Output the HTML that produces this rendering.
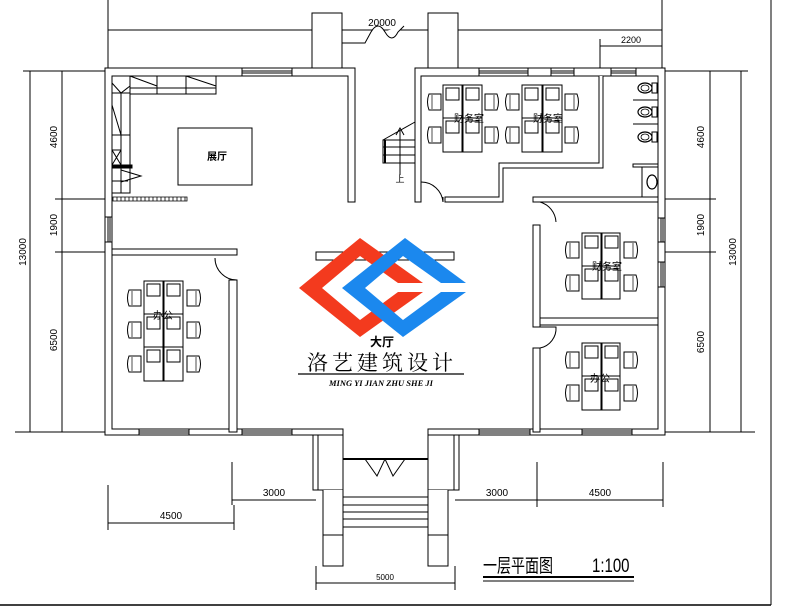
<!DOCTYPE html>
<html><head><meta charset="utf-8"><style>
html,body{margin:0;padding:0;background:#fff;}
svg{display:block;}
text{font-family:"Liberation Sans","Noto Sans CJK SC",sans-serif;fill:#000;}
</style></head><body>
<svg width="794" height="613" viewBox="0 0 794 613" xmlns="http://www.w3.org/2000/svg">
<defs>
<g id="chairL"><path d="M0,-8 h12 v16 h-12 q-3,-8 0,-16z" fill="#fff" stroke="#000" stroke-width="1"/><line x1="3" y1="-7" x2="3" y2="7" stroke="#000" stroke-width="0.7"/></g>
<g id="chairR"><path d="M0,-8 h-12 v16 h12 q3,-8 0,-16z" fill="#fff" stroke="#000" stroke-width="1"/><line x1="-3" y1="-7" x2="-3" y2="7" stroke="#000" stroke-width="0.7"/></g>
<g id="toilet"><ellipse cx="0" cy="0" rx="7" ry="5" fill="#fff" stroke="#000" stroke-width="1.2"/><ellipse cx="0" cy="0" rx="4" ry="3" fill="none" stroke="#000" stroke-width="0.8"/><rect x="7" y="-5" width="5" height="10" fill="#fff" stroke="#000" stroke-width="1"/></g>
</defs>
<g fill="none" stroke="#000" stroke-width="1">
<line x1="771" y1="0" x2="771" y2="605"/>
<line x1="0" y1="605" x2="771" y2="605" stroke-width="1.5"/>
<line x1="108" y1="0" x2="108" y2="69"/>
<line x1="662" y1="0" x2="662" y2="69"/>
<line x1="108" y1="30" x2="662" y2="30"/>
<rect x="312" y="13" width="30" height="55" fill="#fff"/>
<rect x="428" y="13" width="30" height="55" fill="#fff"/>
<path d="M342,43 H365 L371,32 Q378,20 385,32 Q392,44 398,32 L404,26 " fill="#fff" stroke="#000"/>
<line x1="600" y1="46" x2="662" y2="46"/>
<line x1="600" y1="39" x2="600" y2="69"/>
<line x1="30" y1="71" x2="30" y2="432"/>
<line x1="62" y1="71" x2="62" y2="432"/>
<line x1="23" y1="71" x2="105" y2="71"/>
<line x1="55" y1="199" x2="105" y2="199"/>
<line x1="55" y1="252" x2="105" y2="252"/>
<line x1="15" y1="432" x2="105" y2="432"/>
<line x1="710" y1="71" x2="710" y2="432"/>
<line x1="741" y1="71" x2="741" y2="432"/>
<line x1="665" y1="71" x2="748" y2="71"/>
<line x1="665" y1="199" x2="716" y2="199"/>
<line x1="665" y1="252" x2="716" y2="252"/>
<line x1="665" y1="432" x2="755" y2="432"/>
<path d="M105,68 H355 V202 H348 V76 H112 V429 H343 V435 H105 Z" fill="#fff"/>
<path d="M415,68 H665 V435 H428 V429 H658 V76 H421 V202 H415 Z" fill="#fff"/>
<rect x="242" y="68" width="50" height="8" fill="#fff"/><line x1="242" y1="71" x2="292" y2="71"/><line x1="242" y1="73" x2="292" y2="73"/>
<rect x="479" y="68" width="49" height="8" fill="#fff"/><line x1="479" y1="71" x2="528" y2="71"/><line x1="479" y1="73" x2="528" y2="73"/>
<rect x="551" y="68" width="23" height="8" fill="#fff"/><line x1="551" y1="71" x2="574" y2="71"/><line x1="551" y1="73" x2="574" y2="73"/>
<rect x="611" y="68" width="25" height="8" fill="#fff"/><line x1="611" y1="71" x2="636" y2="71"/><line x1="611" y1="73" x2="636" y2="73"/>
<rect x="105" y="217" width="7" height="25" fill="#fff"/><line x1="108" y1="217" x2="108" y2="242"/><line x1="110" y1="217" x2="110" y2="242"/>
<rect x="658" y="218" width="7" height="24" fill="#fff"/><line x1="661" y1="218" x2="661" y2="242"/><line x1="663" y1="218" x2="663" y2="242"/>
<rect x="658" y="262" width="7" height="25" fill="#fff"/><line x1="661" y1="262" x2="661" y2="287"/><line x1="663" y1="262" x2="663" y2="287"/>
<rect x="139" y="429" width="50" height="6" fill="#fff"/><line x1="139" y1="431" x2="189" y2="431"/><line x1="139" y1="433" x2="189" y2="433"/>
<rect x="242" y="429" width="50" height="6" fill="#fff"/><line x1="242" y1="431" x2="292" y2="431"/><line x1="242" y1="433" x2="292" y2="433"/>
<rect x="479" y="429" width="51" height="6" fill="#fff"/><line x1="479" y1="431" x2="530" y2="431"/><line x1="479" y1="433" x2="530" y2="433"/>
<rect x="582" y="429" width="50" height="6" fill="#fff"/><line x1="582" y1="431" x2="632" y2="431"/><line x1="582" y1="433" x2="632" y2="433"/>
<path d="M421,182 A22,22 0 0 1 443,202"/>
<line x1="443" y1="197" x2="443" y2="202"/>
<path d="M599,76 V163 H499 V197 H445 V202 H503 V168 H603 V76" fill="#fff"/>
<line x1="633" y1="100" x2="658" y2="100"/>
<line x1="633" y1="124" x2="658" y2="124"/>
<rect x="633" y="164" width="25" height="3" fill="#fff"/>
<line x1="642" y1="167" x2="642" y2="197"/>
<path d="M533,197 H658 V202 H533 Z" fill="#fff"/>
<path d="M540,202 A22,22 0 0 1 556,222"/>
<rect x="533" y="225" width="7" height="102" fill="#fff"/>
<rect x="533" y="348" width="7" height="84" fill="#fff"/>
<rect x="540" y="318" width="118" height="7" fill="#fff"/>
<path d="M540,327 H556 A20,20 0 0 1 540,348"/>
<rect x="112" y="249" width="125" height="6" fill="#fff"/>
<rect x="229" y="280" width="8" height="152" fill="#fff"/>
<path d="M215,258 A22,22 0 0 0 237,280"/>
<rect x="316" y="252" width="138" height="8" fill="#fff"/>
<rect x="130" y="76" width="86" height="18" fill="#fff"/>
<rect x="157" y="76" width="29" height="18"/>
<line x1="130" y1="88" x2="216" y2="88"/>
<line x1="130" y1="76" x2="157" y2="86"/><line x1="186" y1="76" x2="216" y2="86"/>
<rect x="112" y="93" width="18" height="100" fill="#fff"/>
<line x1="121" y1="93" x2="121" y2="193"/>
<line x1="112" y1="83" x2="121" y2="93"/><line x1="121" y1="93" x2="130" y2="86"/>
<line x1="112" y1="105" x2="121" y2="135"/>
<line x1="112" y1="135" x2="130" y2="135"/>
<line x1="112" y1="150" x2="121" y2="150"/>
<line x1="112" y1="150" x2="121" y2="165"/><line x1="121" y1="150" x2="112" y2="165"/>
<rect x="112" y="165" width="20" height="3" fill="#000"/>
<path d="M121,170 L141,176 L121,182"/>
<line x1="112" y1="181" x2="128" y2="181"/>
<g stroke-width="0.8">
<path d="M113,197 h74 v4 h-74z"/>
<path d="M117,197v4M121,197v4M125,197v4M129,197v4M133,197v4M137,197v4M141,197v4M145,197v4M149,197v4M153,197v4M157,197v4M161,197v4M165,197v4M169,197v4M173,197v4M177,197v4M181,197v4M185,197v4"/>
</g>
<rect x="178" y="128" width="74" height="57"/>
<path d="M383,140 L415,122"/>
<rect x="383" y="140" width="32" height="23"/>
<line x1="383" y1="147" x2="415" y2="147"/><line x1="383" y1="155" x2="415" y2="155"/>
<line x1="385" y1="140" x2="385" y2="163" stroke-width="2"/>
<line x1="400" y1="175" x2="400" y2="130"/>
<path d="M396,135 L400,128 L404,135"/>
<rect x="313" y="435" width="30" height="55" fill="#fff"/>
<line x1="318" y1="435" x2="318" y2="490"/>
<rect x="428" y="435" width="31" height="55" fill="#fff"/>
<line x1="454" y1="435" x2="454" y2="490"/>
<line x1="343" y1="459" x2="428" y2="459" stroke-width="2"/>
<path d="M365,459 L377,476 L385,459 L393,476 L405,459" fill="none"/>
<path d="M323,490 V566 H343 V490 M343,535 H323" fill="#fff"/>
<path d="M428,490 V566 H448 V490 M448,535 H428" fill="#fff"/>
<line x1="343" y1="497" x2="428" y2="497"/><line x1="343" y1="505" x2="428" y2="505"/>
<line x1="343" y1="512" x2="428" y2="512"/><line x1="343" y1="519" x2="428" y2="519"/>
<line x1="343" y1="527" x2="428" y2="527"/>
<line x1="232" y1="500" x2="316" y2="500"/><line x1="232" y1="462" x2="232" y2="505"/>
<line x1="108" y1="523" x2="234" y2="523"/><line x1="108" y1="485" x2="108" y2="530"/><line x1="234" y1="505" x2="234" y2="530"/>
<line x1="455" y1="500" x2="663" y2="500"/><line x1="537" y1="462" x2="537" y2="507"/><line x1="663" y1="462" x2="663" y2="507"/>
<line x1="316" y1="583" x2="455" y2="583"/><line x1="316" y1="566" x2="316" y2="590"/><line x1="455" y1="566" x2="455" y2="590"/>
<line x1="483" y1="577" x2="634" y2="577" stroke-width="2"/><line x1="483" y1="581" x2="634" y2="581"/>
</g>
<g fill="#fff" stroke="#000" stroke-width="1">
<rect x="443" y="85" width="39" height="67"/><rect x="522" y="85" width="40" height="67"/>
<rect x="582" y="233" width="38" height="66"/><rect x="582" y="343" width="38" height="67"/>
<rect x="144" y="281" width="39" height="100"/>
</g>
<g stroke="#000" stroke-width="1" fill="none">
<path d="M462,85v67M463,85v67M542,85v67M543,85v67M601,233v66M602,233v66M601,343v67M602,343v67M163,281v100M164,281v100"/>
<path d="M443,118h39M522,118h40M582,266h38M582,376h38M144,314h39M144,347h39"/>
<rect x="446" y="88" width="13" height="12"/><rect x="466" y="88" width="13" height="12"/><rect x="446" y="121" width="13" height="12"/><rect x="466" y="121" width="13" height="12"/>
<rect x="525" y="88" width="13" height="12"/><rect x="546" y="88" width="13" height="12"/><rect x="525" y="121" width="13" height="12"/><rect x="546" y="121" width="13" height="12"/>
<rect x="585" y="236" width="13" height="12"/><rect x="605" y="236" width="13" height="12"/><rect x="585" y="269" width="13" height="12"/><rect x="605" y="269" width="13" height="12"/>
<rect x="585" y="346" width="13" height="12"/><rect x="605" y="346" width="13" height="12"/><rect x="585" y="379" width="13" height="12"/><rect x="605" y="379" width="13" height="12"/>
<rect x="147" y="284" width="13" height="12"/><rect x="167" y="284" width="13" height="12"/><rect x="147" y="317" width="13" height="12"/><rect x="167" y="317" width="13" height="12"/><rect x="147" y="350" width="13" height="12"/><rect x="167" y="350" width="13" height="12"/>
</g>
<use href="#chairL" x="429" y="102"/><use href="#chairL" x="429" y="135"/><use href="#chairR" x="497" y="102"/><use href="#chairR" x="497" y="135"/>
<use href="#chairL" x="507" y="102"/><use href="#chairL" x="507" y="135"/><use href="#chairR" x="577" y="102"/><use href="#chairR" x="577" y="135"/>
<use href="#chairL" x="567" y="250"/><use href="#chairL" x="567" y="283"/><use href="#chairR" x="636" y="250"/><use href="#chairR" x="636" y="283"/>
<use href="#chairL" x="567" y="360"/><use href="#chairL" x="567" y="393"/><use href="#chairR" x="636" y="360"/><use href="#chairR" x="636" y="393"/>
<use href="#chairL" x="129" y="298"/><use href="#chairL" x="129" y="330"/><use href="#chairL" x="129" y="364"/>
<use href="#chairR" x="199" y="298"/><use href="#chairR" x="199" y="330"/><use href="#chairR" x="199" y="364"/>
<use href="#toilet" x="645" y="88"/><use href="#toilet" x="645" y="112"/><use href="#toilet" x="645" y="137"/>
<ellipse cx="652" cy="182" rx="5" ry="7" fill="#fff" stroke="#000" stroke-width="1.2"/>
<polygon points="299,288 360,238 423,283 398,283 360,256 322,288 360,320 398,292 423,292 360,337" fill="#f33a1e"/>
<polygon points="342,288 405,238 466,283 441,283 403,256 365,288 403,320 441,292 466,292 403,337" fill="#1b88ee"/>
<g font-size="10" text-anchor="middle">
<text x="382" y="26">20000</text>
<text x="631" y="43" font-size="9">2200</text>
<text x="217" y="160" font-weight="bold">展厅</text>
<text x="469" y="122">财务室</text>
<text x="548" y="122">财务室</text>
<text x="607" y="270">财务室</text>
<text x="163" y="319">办公</text>
<text x="600" y="382">办公</text>
<text x="400" y="182" font-size="9">上</text>
<text x="382" y="346" font-weight="bold" font-size="12">大厅</text>
<text x="274" y="496">3000</text>
<text x="497" y="496">3000</text>
<text x="171" y="519">4500</text>
<text x="600" y="496">4500</text>
<text x="385" y="580" font-size="8">5000</text>
<text transform="translate(57,137) rotate(-90)">4600</text>
<text transform="translate(57,225) rotate(-90)">1900</text>
<text transform="translate(57,340) rotate(-90)">6500</text>
<text transform="translate(26,252) rotate(-90)">13000</text>
<text transform="translate(704,137) rotate(-90)">4600</text>
<text transform="translate(704,225) rotate(-90)">1900</text>
<text transform="translate(704,342) rotate(-90)">6500</text>
<text transform="translate(736,252) rotate(-90)">13000</text>
</g>
<text x="382" y="370" text-anchor="middle" font-size="21" letter-spacing="4" style="font-family:'Noto Serif CJK SC','Noto Sans CJK SC',serif">洛艺建筑设计</text>
<line x1="298" y1="374" x2="464" y2="374" stroke="#000" stroke-width="1.2"/>
<text x="381" y="386" text-anchor="middle" font-size="8.5" font-style="italic" font-weight="bold" style="font-family:'Liberation Serif',serif">MING YI JIAN ZHU SHE JI</text>
<g transform="translate(483,572) scale(1,1.35)">
<text x="0" y="0" font-size="14" style="font-family:'Noto Sans CJK SC',sans-serif">一层平面图</text>
</g>
<g transform="translate(592,572) scale(1,1.3)">
<text x="0" y="0" font-size="15">1:100</text>
</g>
</svg>
</body></html>
